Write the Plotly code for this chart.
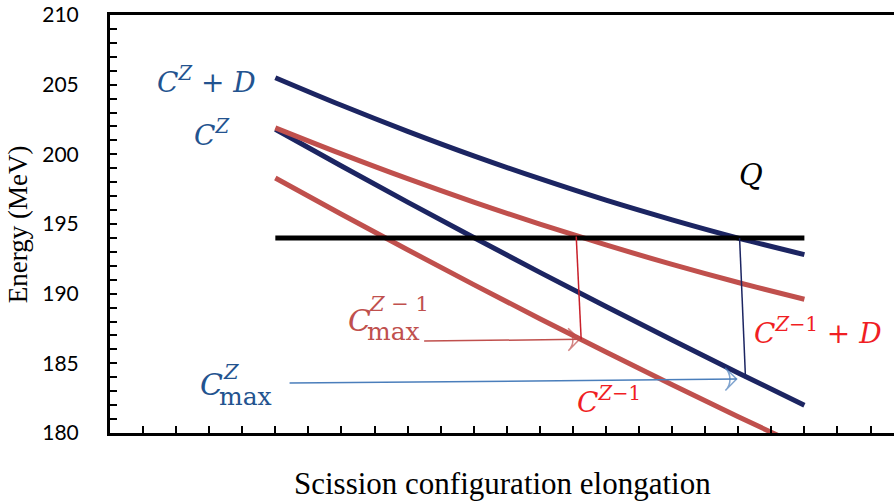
import plotly.graph_objects as go

# ---- data ----
elong = [5, 7, 9, 11, 13, 15, 17, 19, 21]
cz_plus_d = [205.5, 203.52, 201.65, 199.89, 198.25, 196.71, 195.30, 193.99, 192.80]
cz = [201.8, 199.16, 196.57, 194.03, 191.53, 189.08, 186.67, 184.31, 182.00]
czm1_plus_d = [201.9, 200.03, 198.25, 196.57, 194.99, 193.50, 192.10, 190.80, 189.60]
czm1 = [198.3, 195.70, 193.15, 190.65, 188.20, 185.81, 183.46, 181.17, 178.93]
q_x = [5, 21]
q_val = [194, 194]

# connectors (vertical drops from Q to the lower curves)
red_drop_x = [14.10, 14.25]
red_drop_y = [194.1, 186.7]
navy_drop_x = [19.04, 19.22]
navy_drop_y = [194.0, 183.9]

# arrows from labels
red_arrow_x = [9.5, 14.2]
red_arrow_y = [186.6, 186.72]
blue_arrow_x = [5.43, 18.95]
blue_arrow_y = [183.58, 183.87]

NAVY = "#1C2562"
RED = "#C0504D"
LBL_BLUE = "#23538F"
LBL_RED = "#F01E23"

fig = go.Figure()

def line(x, y, color, width):
    fig.add_trace(go.Scatter(x=x, y=y, mode="lines", line=dict(color=color, width=width, shape="spline"),
                             hoverinfo="skip", showlegend=False))

line(elong, cz_plus_d, NAVY, 5)
line(elong, cz, NAVY, 5)
line(elong, czm1_plus_d, RED, 5)
line(elong, czm1, RED, 5)
line(q_x, q_val, "black", 5)
line(red_drop_x, red_drop_y, "#C8202A", 1.5)
line(navy_drop_x, navy_drop_y, NAVY, 1.5)

def arrow(x, y, color):
    fig.add_trace(go.Scatter(x=x, y=y, mode="lines+markers",
                             line=dict(color=color, width=1.5),
                             marker=dict(symbol=["circle", "arrow-wide-open"], size=[0, 16],
                                         angleref="previous", color=color,
                                         line=dict(color=color, width=1.5)),
                             hoverinfo="skip", showlegend=False))

arrow(red_arrow_x, red_arrow_y, RED)
arrow(blue_arrow_x, blue_arrow_y, "#4A7EBB")

MF = "DejaVu Serif"
ann = []
def txt(x, y, text, color, size, xanchor="left"):
    ann.append(dict(x=x, y=y, xref="x", yref="y", text=text, showarrow=False,
                    font=dict(family=MF, size=size, color=color), xanchor=xanchor, yanchor="middle"))

txt(1.35, 205.33, "<i>C</i><sup><i>Z</i></sup> + <i>D</i>", LBL_BLUE, 28)
txt(2.47, 201.53, "<i>C</i><sup><i>Z</i></sup>", LBL_BLUE, 28)
txt(19.4, 198.5, "<i>Q</i>", "black", 29, xanchor="center")
# C max Z-1
txt(7.15, 188.1, "<i>C</i>", RED, 30)
txt(7.76, 189.25, "<i>Z</i> − 1", RED, 21)
txt(7.72, 187.3, "max", RED, 25)
# C^{Z-1} + D
txt(19.43, 187.3, "<i>C</i><sup><i>Z</i>−1</sup> + <i>D</i>", LBL_RED, 28)
# C max Z
txt(2.65, 183.5, "<i>C</i>", LBL_BLUE, 30)
txt(3.37, 184.4, "<i>Z</i>", LBL_BLUE, 21)
txt(3.25, 182.65, "max", LBL_BLUE, 25)
# C^{Z-1}
txt(14.05, 182.3, "<i>C</i><sup><i>Z</i>−1</sup>", LBL_RED, 28)

# axis titles
ann.append(dict(x=0.5, y=-0.075, xref="paper", yref="paper", text="Scission configuration elongation",
                showarrow=False, font=dict(family="Liberation Serif", size=31, color="black"),
                xanchor="center", yanchor="top"))
ann.append(dict(x=-0.117, y=0.5, xref="paper", yref="paper", text="Energy (MeV)", textangle=-90,
                showarrow=False, font=dict(family="Liberation Serif", size=27, color="black"),
                xanchor="center", yanchor="middle"))

fig.update_layout(
    width=894, height=502,
    margin=dict(l=110, r=0, t=15, b=69),
    paper_bgcolor="white", plot_bgcolor="white",
    annotations=ann,
    xaxis=dict(range=[0, 23.71], showgrid=False, zeroline=False, showline=True, linecolor="black",
               linewidth=3, mirror=True, ticks="inside", dtick=1, tick0=0, ticklen=7, tickwidth=2,
               tickcolor="black", showticklabels=False),
    yaxis=dict(range=[180, 210], showgrid=False, zeroline=False, showline=True, linecolor="black",
               linewidth=3, ticks="inside", dtick=5, tick0=180, ticklen=7, tickwidth=2, tickcolor="black",
               tickfont=dict(family="Lato", size=21, color="black"), ticklabelstandoff=24,
               minor=dict(dtick=1, ticks="inside", ticklen=7, tickwidth=2, tickcolor="black", showgrid=False)),
)

fig.write_html("out.html")
